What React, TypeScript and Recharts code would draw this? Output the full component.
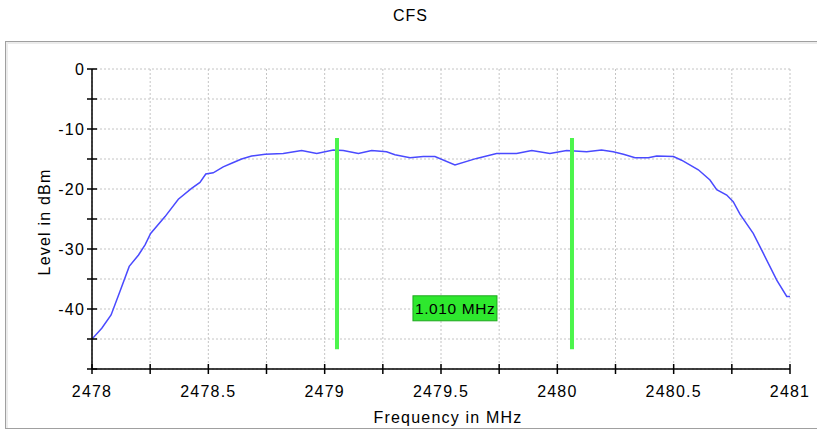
import { CartesianGrid, Line, LineChart, ReferenceDot, ReferenceLine, XAxis, YAxis } from 'recharts';

// spectrum trace (MHz, dBm)
const freqMHz = [
  2478.0, 2478.042, 2478.082, 2478.12, 2478.16, 2478.2, 2478.228, 2478.252, 2478.314, 2478.371,
  2478.428, 2478.464, 2478.489, 2478.521, 2478.564, 2478.6, 2478.643, 2478.686, 2478.744, 2478.822,
  2478.901, 2478.966, 2479.037, 2479.08, 2479.145, 2479.202, 2479.266, 2479.302, 2479.367, 2479.424,
  2479.474, 2479.56, 2479.653, 2479.739, 2479.825, 2479.89, 2479.968, 2480.04, 2480.126, 2480.19,
  2480.24, 2480.284, 2480.334, 2480.391, 2480.427, 2480.499, 2480.534, 2480.606, 2480.656, 2480.685,
  2480.728, 2480.756, 2480.785, 2480.842, 2480.885, 2480.943, 2480.986, 2481.0,
];
const levelDbm = [
  -45.0, -43.2, -41.0, -37.1, -32.9, -31.0, -29.3, -27.4, -24.6, -21.7,
  -19.9, -18.9, -17.5, -17.3, -16.3, -15.7, -15.0, -14.5, -14.2, -14.1,
  -13.6, -14.1, -13.5, -13.6, -14.1, -13.6, -13.8, -14.3, -14.8, -14.6,
  -14.6, -16.0, -14.9, -14.1, -14.1, -13.6, -14.1, -13.6, -13.8, -13.5,
  -13.8, -14.2, -14.8, -14.8, -14.5, -14.6, -15.2, -16.8, -18.5, -20.1,
  -21.0, -22.1, -24.2, -27.4, -30.7, -35.2, -37.9, -37.9,
];

// bandwidth markers
const markerFreqs = [2479.053, 2480.063];
const markerTop = -11.5;
const markerBottom = -46.7;
const deltaLabelPos = { f: 2479.56, level: -39.8 };

const xTicks = [2478, 2478.25, 2478.5, 2478.75, 2479, 2479.25, 2479.5, 2479.75, 2480, 2480.25, 2480.5, 2480.75, 2481];
const yTicks = [-50, -45, -40, -35, -30, -25, -20, -15, -10, -5, 0];

const data = freqMHz.map((f, i) => ({ f, level: levelDbm[i] }));

const FONT = '"Liberation Sans", Arial, sans-serif';
const textStyle = { fontFamily: FONT, fontSize: 16, letterSpacing: 1.2, fill: '#000' };

function XTick({ x, y, payload }: any) {
  const v = payload.value as number;
  const labeled = Math.abs(v * 2 - Math.round(v * 2)) < 1e-6;
  return (
    <g>
      <line x1={x} x2={x} y1={y - 5} y2={y + 5} stroke="#000" strokeWidth={1.5} />
      {labeled && (
        <text x={x} y={y + 28} textAnchor="middle" style={textStyle}>
          {String(v)}
        </text>
      )}
    </g>
  );
}

function YTick({ x, y, payload }: any) {
  const v = payload.value as number;
  const labeled = v % 10 === 0 && v !== -50;
  return (
    <g>
      <line x1={x - 5} x2={x + 5} y1={y} y2={y} stroke="#000" strokeWidth={1.5} />
      {labeled && (
        <text x={x - 7} y={y + 6} textAnchor="end" style={textStyle}>
          {String(v)}
        </text>
      )}
    </g>
  );
}

function DeltaBox({ cx, cy }: any) {
  const text = `${(markerFreqs[1] - markerFreqs[0]).toFixed(3)} MHz`;
  return (
    <g>
      <rect x={cx - 42} y={cy - 12} width={84} height={25} fill="#2ee82e" stroke="#1fa81f" strokeWidth={1} />
      <text x={cx - 40} y={cy + 6} style={{ ...textStyle, fontSize: 15.5, letterSpacing: 0.6 }}>
        {text}
      </text>
    </g>
  );
}

export default function App() {
  return (
    <div style={{ position: 'absolute', left: 0, top: 0, width: 817, height: 430, background: '#fff', overflow: 'hidden' }}>
      <div
        style={{
          position: 'absolute',
          left: 5,
          top: 41,
          width: 840,
          height: 386,
          border: '1px solid #a0a0a0',
          boxShadow: 'inset 2px 2px 0 #ececec',
        }}
      />
      <div
        style={{
          position: 'absolute',
          left: 0,
          top: 7,
          width: 817,
          textAlign: 'center',
          fontFamily: FONT,
          fontSize: 16,
          letterSpacing: 1,
          paddingLeft: 2,
        }}
      >
        CFS
      </div>
      <div style={{ position: 'absolute', left: 0, top: 0 }}>
        <LineChart width={817} height={430} data={data} margin={{ top: 69, right: 27, bottom: 0, left: 0 }}>
          <CartesianGrid stroke="#c4c4c4" strokeDasharray="2 2" />
          <XAxis
            dataKey="f"
            type="number"
            domain={[2478, 2481]}
            ticks={xTicks}
            allowDataOverflow
            height={61}
            tickSize={0}
            tickMargin={0}
            tickLine={false}
            axisLine={{ stroke: '#000', strokeWidth: 1.5 }}
            tick={<XTick />}
            interval={0}
            label={{
              content: ({ viewBox }: any) => (
                <text x={viewBox.x + viewBox.width / 2 + 7} y={viewBox.y + 54} textAnchor="middle" style={textStyle}>
                  Frequency in MHz
                </text>
              ),
            }}
          />
          <YAxis
            type="number"
            domain={[-50, 0]}
            ticks={yTicks}
            allowDataOverflow
            width={92}
            tickSize={0}
            tickMargin={0}
            tickLine={false}
            axisLine={{ stroke: '#000', strokeWidth: 1.5 }}
            tick={<YTick />}
            interval={0}
            label={{
              content: ({ viewBox }: any) => {
                const lx = viewBox.x + 50;
                const ly = viewBox.y + viewBox.height / 2 + 3;
                return (
                  <text x={lx} y={ly} textAnchor="middle" transform={`rotate(-90 ${lx} ${ly})`} style={textStyle}>
                    Level in dBm
                  </text>
                );
              },
            }}
          />
          <Line
            type="linear"
            dataKey="level"
            stroke="#4a4aff"
            strokeWidth={1.5}
            dot={false}
            activeDot={false}
            isAnimationActive={false}
          />
          {markerFreqs.map((f) => (
            <ReferenceLine
              key={f}
              segment={[
                { x: f, y: markerTop },
                { x: f, y: markerBottom },
              ]}
              stroke="#4cf54c"
              strokeWidth={4}
            />
          ))}
          <ReferenceDot x={deltaLabelPos.f} y={deltaLabelPos.level} shape={<DeltaBox />} />
        </LineChart>
      </div>
    </div>
  );
}
